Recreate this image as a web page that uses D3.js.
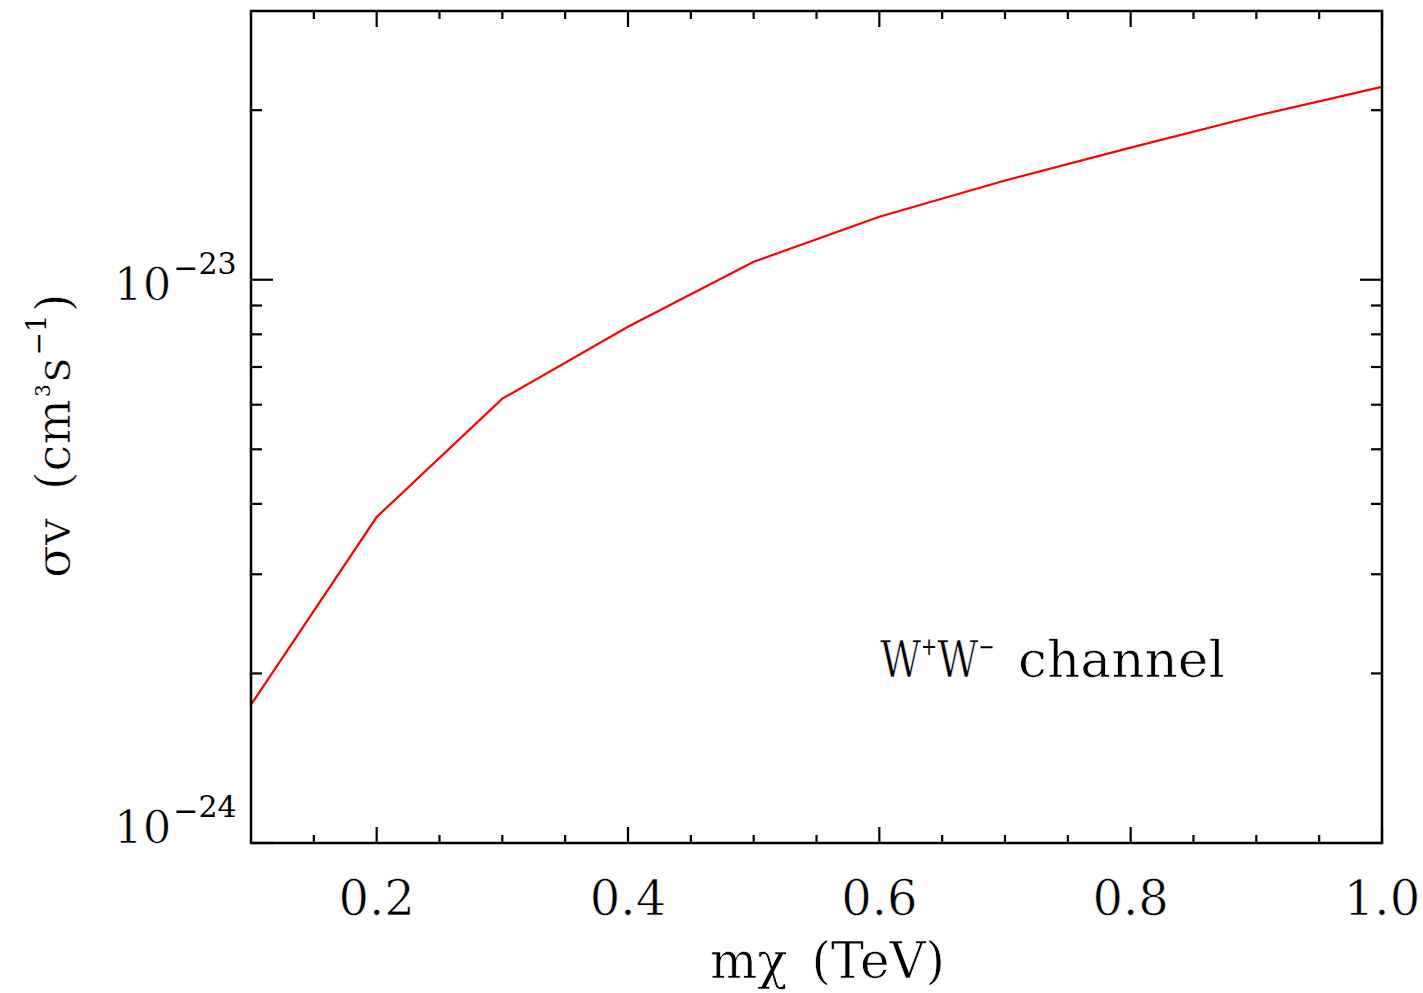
<!DOCTYPE html>
<html>
<head>
<meta charset="utf-8">
<script src="https://cdn.jsdelivr.net/npm/d3@7"></script>
<style>
  html, body { margin: 0; padding: 0; background: #fff; }
  svg { display: block; font-family: "DejaVu Serif", serif; }
  svg text { stroke: #fff; stroke-width: 0.7px; }
  svg tspan.sup { stroke: none; }
</style>
</head>
<body>
<svg id="chart" width="1423" height="993"></svg>
<script>
// ---- data ----
const massTeV = [0.1, 0.2, 0.3, 0.4, 0.5, 0.6, 0.7, 0.8, 0.9, 1.0];
const sigmaV  = [1.76e-24, 3.79e-24, 6.15e-24, 8.25e-24, 1.076e-23, 1.294e-23, 1.50e-23, 1.716e-23, 1.955e-23, 2.20e-23];
const xMajorTicks = [0.2, 0.4, 0.6, 0.8, 1.0];
const xTickLabels = ["0.2", "0.4", "0.6", "0.8", "1.0"];
const yMajorTicks = [1e-24, 1e-23];
const yTickExponents = ["24", "23"];
const xDomain = [0.1, 1.0];
const yDomain = [1e-24, 3.0e-23];
const annotation = ["W", "+", "W", "\u2212", "channel"];

// ---- layout ----
const svg = d3.select("#chart");
const L = 251, R = 1382, T = 11, B = 843;
const x = d3.scaleLinear().domain(xDomain).range([L, R]);
const y = d3.scaleLog().domain(yDomain).range([B, T]);

// minor ticks
const xMinor = d3.range(0.15, 1.0001, 0.05).map(v => +v.toFixed(2))
  .filter(v => !xMajorTicks.some(m => Math.abs(m - v) < 1e-9));
const yMinor = [];
for (let e = -24; e <= -23; e++) {
  for (let k = 2; k <= 9; k++) {
    const v = k * Math.pow(10, e);
    if (v < yDomain[1]) yMinor.push(v);
  }
}

const g = svg.append("g");

// line
const line = d3.line().x((d, i) => x(massTeV[i])).y(d => y(d));
g.append("path").datum(sigmaV)
  .attr("d", line)
  .attr("fill", "none")
  .attr("stroke", "#ff0000")
  .attr("stroke-width", 2.2);

const tickStroke = 2.2;
function xt(vals, len) {
  vals.forEach(v => {
    g.append("line").attr("x1", x(v)).attr("x2", x(v)).attr("y1", B).attr("y2", B - len)
      .attr("stroke", "#000").attr("stroke-width", tickStroke);
    g.append("line").attr("x1", x(v)).attr("x2", x(v)).attr("y1", T).attr("y2", T + len)
      .attr("stroke", "#000").attr("stroke-width", tickStroke);
  });
}
xt(xMajorTicks, 16);
xt(xMinor, 8);
function yt(vals, len) {
  vals.forEach(v => {
    g.append("line").attr("x1", L).attr("x2", L + len).attr("y1", y(v)).attr("y2", y(v))
      .attr("stroke", "#000").attr("stroke-width", tickStroke);
    g.append("line").attr("x1", R).attr("x2", R - len).attr("y1", y(v)).attr("y2", y(v))
      .attr("stroke", "#000").attr("stroke-width", tickStroke);
  });
}
yt(yMajorTicks, 22);
yt(yMinor, 11);

// frame
g.append("rect").attr("x", L).attr("y", T).attr("width", R - L).attr("height", B - T)
  .attr("fill", "none").attr("stroke", "#000").attr("stroke-width", 2.5);

// x tick labels
xMajorTicks.forEach((v, i) => {
  g.append("text").attr("x", x(v)).attr("y", B + 72)
    .attr("text-anchor", "middle").attr("font-size", 48).attr("fill", "#000")
    .text(xTickLabels[i]);
});

// y tick labels
yMajorTicks.forEach((v, i) => {
  const base = Math.min(y(v) + 20, B);
  const t = g.append("text").attr("x", 114).attr("y", base)
    .attr("fill", "#000");
  t.append("tspan").attr("font-size", 45).text("10");
  t.append("tspan").attr("class", "sup").attr("font-size", 30).attr("dx", 2).attr("dy", -22).text("\u2212");
  t.append("tspan").attr("class", "sup").attr("font-size", 30).attr("dy", -4).text(yTickExponents[i]);
});

// x axis title
const xt2 = g.append("text").attr("x", 710).attr("y", 978)
  .attr("font-size", 50).attr("fill", "#000")
  .attr("textLength", 235).attr("lengthAdjust", "spacing");
xt2.append("tspan").text("m\u03C7");
xt2.append("tspan").attr("dx", 24).text("(TeV)");

// y axis title
const yt2 = g.append("text").attr("transform", "translate(70,578) rotate(-90)")
  .attr("text-anchor", "start").attr("font-size", 48).attr("fill", "#000");
yt2.append("tspan").text("\u03C3v");
yt2.append("tspan").attr("dx", 28).text("(cm");
yt2.append("tspan").attr("class", "sup").attr("font-size", 20).attr("dy", -20).attr("dx", 2).text("3");
yt2.append("tspan").attr("font-size", 48).attr("dy", 20).attr("dx", 2).text("s");
yt2.append("tspan").attr("class", "sup").attr("font-size", 28).attr("dy", -22).attr("dx", 2).text("\u2212");
yt2.append("tspan").attr("class", "sup").attr("font-size", 28).attr("dy", -2).text("1");
yt2.append("tspan").attr("font-size", 48).attr("dy", 24).attr("dx", 2).text(")");

// annotation
const an = g.append("text").attr("transform", "translate(880,677) scale(0.8,1)")
  .attr("font-size", 50).attr("fill", "#000");
an.append("tspan").text(annotation[0]);
an.append("tspan").attr("class", "sup").attr("font-size", 24).attr("dy", -22).text(annotation[1]);
an.append("tspan").attr("font-size", 50).attr("dy", 22).text(annotation[2]);
an.append("tspan").attr("class", "sup").attr("font-size", 24).attr("dy", -22).text(annotation[3]);
g.append("text").attr("x", 1018).attr("y", 677)
  .attr("font-size", 50).attr("fill", "#000")
  .attr("textLength", 207).attr("lengthAdjust", "spacingAndGlyphs")
  .text(annotation[4]);
</script>
</body>
</html>
